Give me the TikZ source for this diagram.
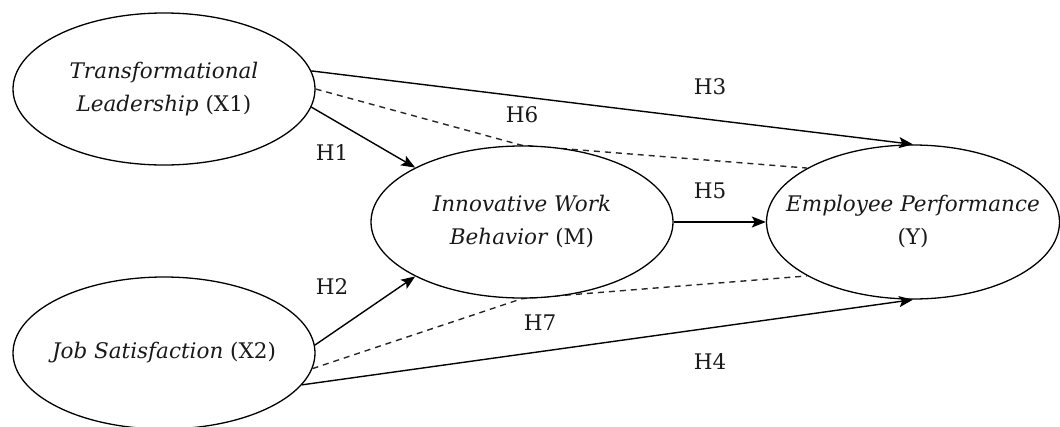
\documentclass[tikz,border=0pt]{standalone}
\usepackage{fontspec}
\setmainfont{DejaVu Serif}
\usetikzlibrary{shapes.geometric,arrows.meta,backgrounds}
\tikzset{
  construct/.style={ellipse,draw=black,line width=1.3pt,fill=white,inner sep=0pt,
    minimum width=302pt,minimum height=152pt},
  ctext/.style={align=center,font=\fontsize{21.5}{33}\selectfont,text=black!90,inner sep=0pt},
  path/.style={draw=black,line width=1.4pt,-{Stealth[length=14pt,width=11pt,inset=3pt]}},
  indirect/.style={draw=black!85,line width=1.4pt,dash pattern=on 6pt off 5pt},
  hyp/.style={font=\fontsize{21.5}{24}\selectfont,text=black!90,inner sep=0pt}
}
\begin{document}
\begin{tikzpicture}[x=1pt,y=-1pt]
\useasboundingbox (0,0) rectangle (1060,426);
\node[construct,label={[ctext]center:\textit{Transformational}\\\textit{Leadership} (X1)}] (X1) at (164,89) {};
\node[construct,label={[ctext]center:\textit{Job Satisfaction} (X2)}] (X2) at (164,353) {};
\node[construct,label={[ctext]center:\textit{Innovative Work}\\\textit{Behavior} (M)}] (M) at (522,222) {};
\node[construct,minimum width=293pt,minimum height=154pt,label={[ctext]center:\textit{Employee Performance}\\(Y)}] (Y) at (913,222) {};
\begin{scope}[on background layer]
\draw[indirect] (X1.east) -- (M.north) -- (Y.153);
\draw[indirect] (X2.-6.5) -- (M.south) -- (Y.207);
\end{scope}
\draw[path] (X1.7) -- (Y.north);
\draw[path] (X1.-7) -- (M.153);
\draw[path] (X2.3) -- (M.207);
\draw[path] (X2.-13.7) -- (Y.south);
\draw[path] (M.east) -- (Y.west);
\node[hyp] (h3) at (710,87) {H3};
\node[hyp] (h6) at (522,115) {H6};
\node[hyp] (h1) at (332,153) {H1};
\node[hyp] (h5) at (710,191) {H5};
\node[hyp] (h2) at (332,287) {H2};
\node[hyp] (h7) at (540,323) {H7};
\node[hyp] (h4) at (710,362) {H4};
\end{tikzpicture}
\end{document}
